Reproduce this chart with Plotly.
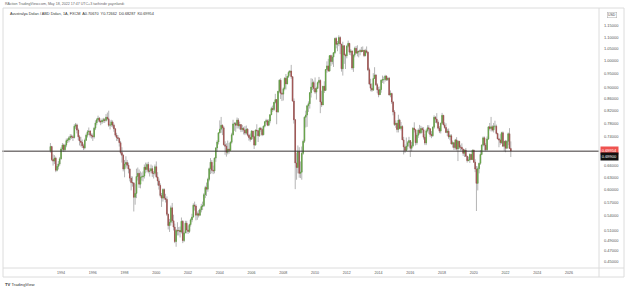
import numpy as np
import pandas as pd
import plotly.graph_objects as go

# ---------------- data (monthly AUD/USD, May 1993 - May 2022) ----------------
first_open = 0.700
close = [
    0.712, 0.676, 0.672, 0.680, 0.648, 0.658, 0.664, 0.678,                        # 1993 (May-Dec)
    0.705, 0.716, 0.703, 0.716, 0.729, 0.731, 0.737, 0.742, 0.740, 0.738, 0.772, 0.776,  # 1994
    0.760, 0.740, 0.728, 0.724, 0.714, 0.708, 0.730, 0.745, 0.755, 0.757, 0.745, 0.743,  # 1995
    0.740, 0.766, 0.782, 0.792, 0.797, 0.787, 0.785, 0.790, 0.792, 0.790, 0.800, 0.795,  # 1996
    0.775, 0.776, 0.785, 0.775, 0.764, 0.745, 0.738, 0.735, 0.723, 0.695, 0.688, 0.651,  # 1997
    0.664, 0.668, 0.661, 0.651, 0.628, 0.617, 0.616, 0.582, 0.591, 0.632, 0.640, 0.613,  # 1998
    0.631, 0.631, 0.633, 0.656, 0.650, 0.663, 0.645, 0.646, 0.652, 0.640, 0.640, 0.657,  # 1999
    0.631, 0.621, 0.610, 0.586, 0.580, 0.600, 0.580, 0.577, 0.544, 0.520, 0.527, 0.558,  # 2000
    0.530, 0.517, 0.488, 0.510, 0.509, 0.510, 0.507, 0.529, 0.490, 0.505, 0.525, 0.511,  # 2001
    0.508, 0.522, 0.532, 0.538, 0.564, 0.562, 0.542, 0.545, 0.542, 0.554, 0.561, 0.563,  # 2002
    0.588, 0.605, 0.601, 0.625, 0.652, 0.669, 0.648, 0.646, 0.680, 0.708, 0.725, 0.752,  # 2003
    0.763, 0.775, 0.767, 0.717, 0.713, 0.696, 0.705, 0.701, 0.724, 0.746, 0.779, 0.780,  # 2004
    0.775, 0.791, 0.773, 0.777, 0.762, 0.765, 0.760, 0.751, 0.763, 0.745, 0.738, 0.733,  # 2005
    0.757, 0.740, 0.716, 0.760, 0.758, 0.743, 0.766, 0.762, 0.746, 0.772, 0.786, 0.789,  # 2006
    0.775, 0.788, 0.808, 0.828, 0.825, 0.849, 0.858, 0.817, 0.887, 0.927, 0.880, 0.877,  # 2007
    0.896, 0.934, 0.913, 0.941, 0.956, 0.961, 0.940, 0.853, 0.792, 0.667, 0.655, 0.698,  # 2008
    0.640, 0.643, 0.693, 0.727, 0.800, 0.807, 0.837, 0.844, 0.882, 0.902, 0.918, 0.897,  # 2009
    0.884, 0.897, 0.918, 0.926, 0.850, 0.840, 0.905, 0.890, 0.967, 0.981, 0.961, 1.022,  # 2010
    0.998, 1.016, 1.034, 1.094, 1.069, 1.072, 1.098, 1.070, 0.970, 1.063, 1.025, 1.021,  # 2011
    1.061, 1.073, 1.036, 1.041, 0.973, 1.024, 1.052, 1.032, 1.039, 1.038, 1.043, 1.039,  # 2012
    1.044, 1.022, 1.042, 1.036, 0.966, 0.913, 0.898, 0.891, 0.933, 0.946, 0.910, 0.892,  # 2013
    0.875, 0.893, 0.927, 0.929, 0.929, 0.942, 0.929, 0.934, 0.874, 0.879, 0.850, 0.817,  # 2014
    0.777, 0.781, 0.762, 0.791, 0.765, 0.771, 0.731, 0.711, 0.701, 0.713, 0.723, 0.729,  # 2015
    0.707, 0.714, 0.766, 0.761, 0.723, 0.745, 0.760, 0.752, 0.765, 0.761, 0.739, 0.722,  # 2016
    0.758, 0.767, 0.764, 0.747, 0.743, 0.769, 0.800, 0.794, 0.784, 0.766, 0.757, 0.781,  # 2017
    0.806, 0.776, 0.768, 0.753, 0.757, 0.740, 0.743, 0.719, 0.723, 0.709, 0.731, 0.705,  # 2018
    0.727, 0.710, 0.710, 0.705, 0.693, 0.702, 0.685, 0.673, 0.675, 0.690, 0.676, 0.702,  # 2019
    0.669, 0.651, 0.615, 0.652, 0.666, 0.690, 0.716, 0.737, 0.716, 0.703, 0.734, 0.770,  # 2020
    0.765, 0.770, 0.760, 0.772, 0.772, 0.750, 0.734, 0.731, 0.723, 0.752, 0.713, 0.727,  # 2021
    0.707, 0.727, 0.749, 0.7067, 0.69954,                                               # 2022
]
high = [
    0.722, 0.714, 0.690, 0.688, 0.684, 0.665, 0.672, 0.683,
    0.710, 0.722, 0.720, 0.720, 0.735, 0.736, 0.742, 0.748, 0.747, 0.745, 0.778, 0.782,
    0.780, 0.765, 0.745, 0.740, 0.732, 0.720, 0.735, 0.750, 0.760, 0.768, 0.760, 0.750,
    0.750, 0.770, 0.790, 0.797, 0.805, 0.800, 0.792, 0.796, 0.798, 0.797, 0.810, 0.815,
    0.821, 0.790, 0.792, 0.790, 0.780, 0.766, 0.752, 0.745, 0.738, 0.728, 0.710, 0.690,
    0.675, 0.685, 0.675, 0.668, 0.653, 0.633, 0.632, 0.618, 0.613, 0.652, 0.655, 0.650,
    0.645, 0.642, 0.645, 0.663, 0.668, 0.668, 0.670, 0.653, 0.663, 0.660, 0.646, 0.663,
    0.671, 0.643, 0.627, 0.615, 0.592, 0.603, 0.603, 0.590, 0.584, 0.545, 0.534, 0.563,
    0.569, 0.543, 0.524, 0.513, 0.527, 0.517, 0.518, 0.537, 0.531, 0.508, 0.530, 0.530,
    0.520, 0.524, 0.535, 0.545, 0.568, 0.572, 0.566, 0.550, 0.553, 0.557, 0.567, 0.572,
    0.592, 0.609, 0.617, 0.629, 0.655, 0.680, 0.675, 0.660, 0.682, 0.710, 0.730, 0.752,
    0.790, 0.801, 0.777, 0.772, 0.727, 0.721, 0.729, 0.722, 0.727, 0.752, 0.792, 0.785,
    0.785, 0.799, 0.797, 0.786, 0.778, 0.776, 0.770, 0.772, 0.774, 0.766, 0.748, 0.750,
    0.760, 0.758, 0.743, 0.762, 0.778, 0.760, 0.768, 0.770, 0.767, 0.774, 0.787, 0.795,
    0.793, 0.794, 0.810, 0.834, 0.838, 0.850, 0.878, 0.860, 0.888, 0.930, 0.934, 0.885,
    0.901, 0.938, 0.950, 0.943, 0.962, 0.965, 0.985, 0.940, 0.862, 0.793, 0.695, 0.715,
    0.710, 0.671, 0.712, 0.732, 0.803, 0.821, 0.840, 0.852, 0.883, 0.934, 0.932, 0.925,
    0.937, 0.903, 0.922, 0.939, 0.930, 0.889, 0.905, 0.923, 0.967, 0.999, 1.009, 1.022,
    1.026, 1.023, 1.035, 1.098, 1.101, 1.083, 1.108, 1.104, 1.069, 1.080, 1.064, 1.030,
    1.067, 1.085, 1.073, 1.049, 1.043, 1.027, 1.059, 1.062, 1.065, 1.044, 1.050, 1.058,
    1.060, 1.043, 1.050, 1.060, 1.039, 0.974, 0.932, 0.916, 0.953, 0.976, 0.950, 0.916,
    0.903, 0.904, 0.929, 0.944, 0.940, 0.947, 0.945, 0.937, 0.939, 0.890, 0.882, 0.852,
    0.823, 0.790, 0.782, 0.808, 0.795, 0.785, 0.775, 0.740, 0.718, 0.738, 0.728, 0.740,
    0.730, 0.725, 0.769, 0.784, 0.763, 0.752, 0.765, 0.776, 0.773, 0.770, 0.769, 0.748,
    0.763, 0.775, 0.775, 0.765, 0.757, 0.771, 0.806, 0.803, 0.813, 0.790, 0.772, 0.783,
    0.814, 0.806, 0.784, 0.781, 0.764, 0.765, 0.748, 0.748, 0.729, 0.723, 0.734, 0.739,
    0.730, 0.725, 0.717, 0.721, 0.701, 0.704, 0.708, 0.686, 0.684, 0.693, 0.691, 0.703,
    0.703, 0.677, 0.659, 0.658, 0.668, 0.702, 0.718, 0.741, 0.741, 0.722, 0.741, 0.770,
    0.782, 0.801, 0.775, 0.782, 0.789, 0.777, 0.752, 0.737, 0.748, 0.755, 0.756, 0.728,
    0.731, 0.730, 0.753, 0.766, 0.72662,
]
low = [
    0.695, 0.672, 0.660, 0.664, 0.643, 0.645, 0.650, 0.660,
    0.676, 0.700, 0.697, 0.698, 0.710, 0.722, 0.724, 0.730, 0.734, 0.728, 0.735, 0.764,
    0.750, 0.730, 0.715, 0.712, 0.708, 0.702, 0.704, 0.728, 0.738, 0.745, 0.738, 0.735,
    0.728, 0.735, 0.760, 0.775, 0.785, 0.783, 0.775, 0.779, 0.783, 0.782, 0.786, 0.790,
    0.770, 0.762, 0.770, 0.768, 0.755, 0.740, 0.728, 0.728, 0.712, 0.690, 0.668, 0.645,
    0.630, 0.655, 0.652, 0.640, 0.620, 0.598, 0.607, 0.550, 0.565, 0.580, 0.622, 0.604,
    0.603, 0.622, 0.620, 0.627, 0.640, 0.643, 0.640, 0.632, 0.640, 0.631, 0.627, 0.635,
    0.628, 0.610, 0.600, 0.582, 0.560, 0.572, 0.576, 0.570, 0.540, 0.512, 0.507, 0.520,
    0.525, 0.510, 0.485, 0.478, 0.500, 0.500, 0.496, 0.504, 0.485, 0.487, 0.505, 0.504,
    0.503, 0.505, 0.518, 0.527, 0.537, 0.552, 0.531, 0.532, 0.537, 0.540, 0.548, 0.553,
    0.560, 0.580, 0.585, 0.595, 0.620, 0.638, 0.640, 0.638, 0.640, 0.670, 0.697, 0.718,
    0.750, 0.752, 0.745, 0.715, 0.689, 0.684, 0.690, 0.692, 0.700, 0.720, 0.744, 0.758,
    0.755, 0.765, 0.765, 0.762, 0.754, 0.755, 0.747, 0.745, 0.748, 0.741, 0.729, 0.726,
    0.732, 0.733, 0.705, 0.716, 0.742, 0.725, 0.740, 0.755, 0.742, 0.745, 0.768, 0.780,
    0.772, 0.772, 0.781, 0.807, 0.817, 0.820, 0.845, 0.778, 0.814, 0.880, 0.860, 0.853,
    0.855, 0.890, 0.893, 0.915, 0.935, 0.945, 0.932, 0.852, 0.780, 0.601, 0.624, 0.640,
    0.629, 0.628, 0.624, 0.689, 0.722, 0.768, 0.770, 0.817, 0.828, 0.865, 0.891, 0.886,
    0.878, 0.858, 0.895, 0.911, 0.813, 0.833, 0.843, 0.881, 0.888, 0.955, 0.961, 0.960,
    0.981, 0.987, 0.977, 1.028, 1.052, 1.040, 1.061, 1.028, 0.959, 0.944, 0.989, 0.969,
    1.011, 1.055, 1.025, 1.023, 0.966, 0.958, 1.015, 1.031, 1.019, 1.015, 1.023, 1.035,
    1.037, 1.016, 1.019, 1.031, 0.961, 0.909, 0.887, 0.885, 0.889, 0.935, 0.906, 0.880,
    0.866, 0.887, 0.882, 0.917, 0.914, 0.922, 0.924, 0.924, 0.872, 0.866, 0.843, 0.806,
    0.773, 0.767, 0.753, 0.753, 0.763, 0.759, 0.731, 0.690, 0.694, 0.700, 0.703, 0.711,
    0.683, 0.699, 0.710, 0.753, 0.715, 0.717, 0.737, 0.747, 0.748, 0.752, 0.732, 0.716,
    0.716, 0.753, 0.749, 0.740, 0.736, 0.740, 0.764, 0.782, 0.780, 0.762, 0.751, 0.750,
    0.777, 0.775, 0.764, 0.751, 0.742, 0.734, 0.730, 0.719, 0.709, 0.702, 0.703, 0.701,
    0.672, 0.705, 0.701, 0.701, 0.686, 0.683, 0.684, 0.668, 0.672, 0.667, 0.676, 0.676,
    0.667, 0.643, 0.551, 0.598, 0.640, 0.662, 0.688, 0.712, 0.701, 0.699, 0.700, 0.731,
    0.759, 0.756, 0.756, 0.753, 0.765, 0.747, 0.733, 0.710, 0.717, 0.720, 0.711, 0.699,
    0.696, 0.707, 0.716, 0.705, 0.68287,
]
start_month = "1993-05-01"
hline_level = 0.699
last_close = 0.69954

y_tickvals = [0.45, 0.47, 0.49, 0.51, 0.54, 0.57, 0.60, 0.63, 0.66, 0.74, 0.78,
              0.82, 0.86, 0.90, 0.95, 1.00, 1.05, 1.10, 1.15]
x_tick_years = list(range(1994, 2027, 2))

title_text = ("Avustralya Doları / ABD Doları, 1A, FXCM  "
              "A0.70670  Y0.72662  D0.68287  K0.69954")
header_text = "RAction TradingView.com, May 18, 2022 17:47 UTC+3 tarihinde yayınlandı"

# ---------------- derived ----------------
dates = pd.date_range(start_month, periods=len(close), freq="MS")
opens = [first_open] + close[:-1]
body_hi = np.maximum(opens, close)
body_lo = np.minimum(opens, close)

W, H = 625, 290
L, R, T, B = 2, 26, 8, 22
PW, PH = W - L - R, H - T - B


def px(x):
    return (x - L) / PW


def py(y):
    return (H - B - y) / PH


WICK = "#b4b4b4"
UP = "#5ea23c"
DN = "#a04a48"
FONT = "Liberation Sans"

x_start = pd.Timestamp("1990-04-13")
x_end = pd.Timestamp("2027-11-20")

fig = go.Figure()
fig.add_trace(go.Candlestick(
    x=dates, open=opens, high=high, low=low, close=close,
    increasing=dict(line=dict(color=WICK, width=1), fillcolor=WICK),
    decreasing=dict(line=dict(color=WICK, width=1), fillcolor=WICK),
    whiskerwidth=0, hoverinfo="skip", showlegend=False,
))
fig.add_trace(go.Candlestick(
    x=dates, open=opens, high=body_hi, low=body_lo, close=close,
    increasing=dict(line=dict(color=UP, width=0.6), fillcolor=UP),
    decreasing=dict(line=dict(color=DN, width=0.6), fillcolor=DN),
    whiskerwidth=0, hoverinfo="skip", showlegend=False,
))
fig.add_trace(go.Scatter(
    x=[x_start, x_end], y=[hline_level, hline_level], mode="lines",
    line=dict(color="#3a3434", width=1), hoverinfo="skip", showlegend=False,
))

fig.update_layout(
    width=W, height=H,
    margin=dict(l=L, r=R, t=T, b=B),
    paper_bgcolor="white", plot_bgcolor="white",
    font=dict(family=FONT, color="#555"),
    showlegend=False,
    xaxis=dict(
        type="date", range=[x_start, x_end], rangeslider=dict(visible=False),
        showgrid=False, zeroline=False, showline=False,
        tickvals=[pd.Timestamp(f"{y}-01-01") for y in x_tick_years],
        ticktext=[str(y) for y in x_tick_years],
        tickfont=dict(size=3.6, color="#555", family=FONT),
        ticks="", ticklabelstandoff=1,
    ),
    yaxis=dict(
        type="log", side="right",
        range=[np.log10(0.4393), np.log10(1.235)],
        showgrid=False, zeroline=False, showline=False,
        tickvals=y_tickvals, ticktext=[f"{v:.5f}" for v in y_tickvals],
        tickfont=dict(size=4, color="#555", family=FONT),
        ticks="", ticklabelstandoff=4,
    ),
)

shapes = [
    dict(type="rect", xref="paper", yref="paper", x0=px(3), x1=px(624),
         y0=py(277), y1=py(8), line=dict(color="#dcdcdc", width=1)),
    dict(type="line", xref="paper", yref="paper", x0=px(599), x1=px(599),
         y0=py(277), y1=py(8), line=dict(color="#dcdcdc", width=1)),
    dict(type="line", xref="paper", yref="paper", x0=px(3), x1=px(624),
         y0=py(268), y1=py(268), line=dict(color="#dcdcdc", width=1)),
]
fig.update_layout(shapes=shapes)

ann = [
    dict(x=px(3), y=py(4), xref="paper", yref="paper", text=header_text,
         showarrow=False, xanchor="left", yanchor="middle",
         font=dict(size=3.6, color="#666", family=FONT)),
    dict(x=px(8), y=py(14), xref="paper", yref="paper", text=title_text,
         showarrow=False, xanchor="left", yanchor="middle",
         font=dict(size=3.8, color="#333", family=FONT)),
    dict(x=px(3), y=py(284), xref="paper", yref="paper",
         text="<b>TV</b> TradingView",
         showarrow=False, xanchor="left", yanchor="middle",
         font=dict(size=4.2, color="#333", family=FONT)),
    dict(x=px(612), y=py(15), xref="paper", yref="paper", text="USD",
         showarrow=False, xanchor="center", yanchor="middle",
         bgcolor="white", bordercolor="#aaa", borderwidth=0.5, borderpad=0.5,
         font=dict(size=3.5, color="#444", family=FONT)),
    dict(x=px(600), y=np.log10(last_close), xref="paper", yref="y",
         text=f"{last_close:.5f}", showarrow=False, xanchor="left",
         yanchor="middle", bgcolor="#ef5350", borderpad=0.8,
         font=dict(size=4, color="white", family=FONT)),
    dict(x=px(600), y=np.log10(hline_level), xref="paper", yref="y",
         yshift=-5, text=f"{hline_level:.5f}", showarrow=False,
         xanchor="left", yanchor="middle", bgcolor="#111111", borderpad=0.8,
         font=dict(size=4, color="white", family=FONT)),
]
fig.update_layout(annotations=ann)

fig.write_html("out.html")
